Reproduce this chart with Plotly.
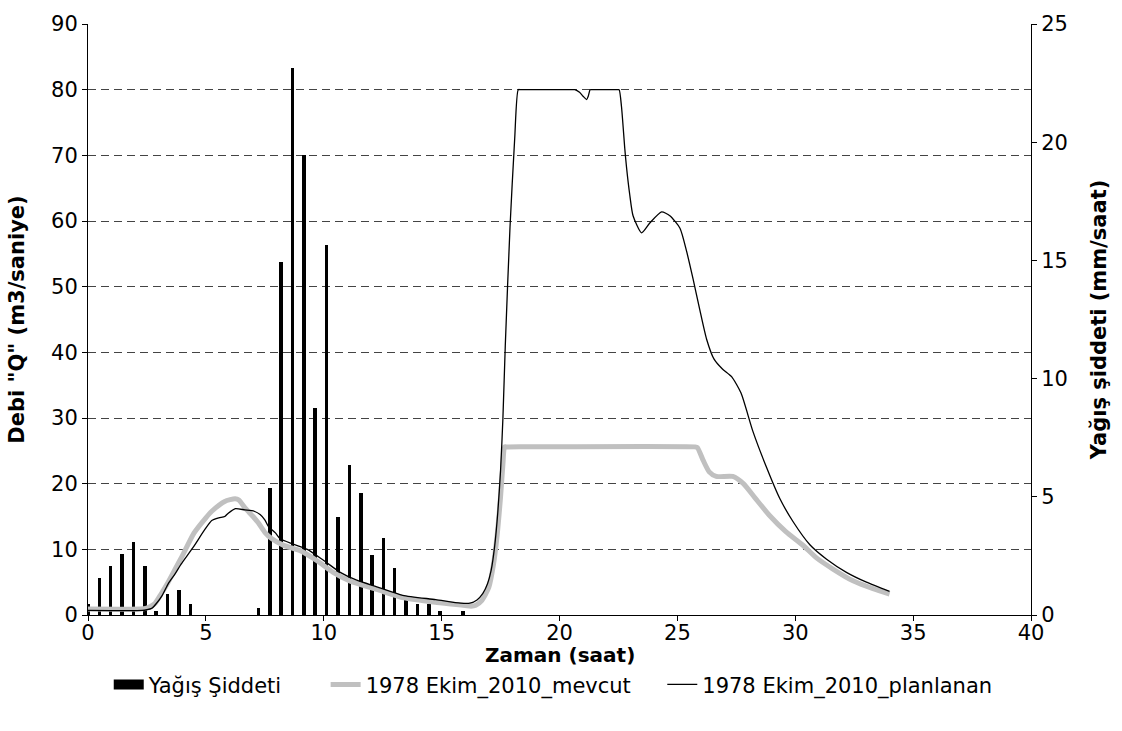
import plotly.graph_objects as go

# Rainfall intensity bars (mm/saat) - right axis
rain_t = [0.0, 0.48, 0.96, 1.45, 1.93, 2.41, 2.89, 3.37, 3.86, 4.34,
          7.23, 7.71, 8.19, 8.68, 9.16, 9.64, 10.12, 10.60, 11.09, 11.57,
          12.05, 12.53, 13.01, 13.50, 13.98, 14.46, 14.94, 15.91]
rain_v = [0.45, 1.57, 2.08, 2.58, 3.08, 2.08, 0.18, 0.87, 1.05, 0.45,
          0.29, 5.39, 14.94, 23.14, 19.46, 8.77, 15.66, 4.15, 6.36, 5.15,
          2.55, 3.25, 1.97, 0.62, 0.47, 0.46, 0.18, 0.18]

# 1978 Ekim_2010_mevcut (gray, thick)
mev_t = [0, 2.2, 2.45, 2.65, 2.85, 3.1, 3.4, 3.7, 4.0, 4.5, 5.0, 5.25, 5.8, 6.24, 6.4,
         6.66, 7.0, 7.23, 7.5, 7.8, 8.3, 9.0, 9.7, 10.4, 11.1, 12.25, 13.4,
         14.8, 16.0, 16.25, 16.45, 16.7, 17.0, 17.2, 17.35, 17.5, 17.6, 17.67, 17.75,
         25.75, 25.85, 26.1, 26.35, 26.65, 27.35, 27.8, 28.3, 28.9, 29.6, 30.3, 30.9,
         31.6, 32.45, 33.3, 34.0]
mev_q = [0.9, 0.9, 1.0, 1.3, 1.8, 3.2, 5.0, 7.0, 9.0, 12.5, 14.8, 15.8, 17.3, 17.7, 17.5,
         16.3, 15.0, 14.0, 12.6, 11.6, 10.6, 9.8, 8.3, 6.5, 5.2, 3.9, 2.6,
         1.9, 1.45, 1.35, 1.5, 2.2, 4.2, 7.7, 12.0, 18.0, 23.0, 25.6, 25.6,
         25.6, 25.5, 23.5, 21.8, 21.1, 21.1, 20.0, 17.8, 15.2, 12.7, 10.7, 8.7,
         7.0, 5.2, 4.0, 3.2]

# 1978 Ekim_2010_planlanan (black, thin)
pla_t = [0, 2.3, 2.5, 2.7, 2.9, 3.15, 3.4, 3.7, 3.95, 4.45, 4.95, 5.25, 5.55, 5.8, 5.95,
         6.25, 6.65, 7.05, 7.3, 7.5, 7.65, 7.95, 8.15, 8.7, 9.3, 10.0, 10.7, 11.4,
         12.25, 13.35, 14.75, 15.8, 16.2, 16.5, 16.75, 16.95, 17.1, 17.25, 17.38,
         17.5, 17.6, 17.7, 17.9, 18.1, 18.25, 18.35, 20.55, 20.65, 20.85, 21.0, 21.15,
         21.22, 21.3, 21.4, 22.45, 22.53, 22.63, 22.77, 22.84, 22.98, 23.12, 23.48,
         23.83, 24.33, 24.68, 25.11, 25.39, 25.67, 25.95, 26.24, 26.55, 26.9, 27.3,
         27.7, 28.2, 28.78, 29.35, 29.91, 30.62, 31.33, 32.17, 33.02, 34.0]
pla_q = [0.7, 0.7, 0.8, 1.0, 1.75, 3.0, 4.75, 6.3, 7.75, 10.25, 13.0, 14.4, 14.8, 15.0, 15.5,
         16.2, 16.0, 15.8, 15.3, 14.5, 13.5, 12.5, 11.6, 10.8, 10.0, 8.3, 6.5, 5.3,
         4.3, 3.0, 2.35, 1.8, 1.8, 2.3, 3.3, 4.8, 6.8, 10.5, 15.5,
         22.0, 30.0, 41.0, 59.0, 72.6, 80.0, 80.0, 80.0, 80.0, 79.6, 79.0, 78.5,
         79.0, 80.0, 80.0, 80.0, 80.0, 77.4, 71.0, 68.3, 64.0, 60.8, 58.2,
         59.7, 61.4, 60.8, 58.9, 55.4, 51.1, 46.5, 42.0, 39.0, 37.5, 36.3,
         33.8, 28.0, 22.5, 17.7, 14.2, 10.7, 8.5, 6.5, 5.0, 3.6]

FONT = "DejaVu Sans, Arial, sans-serif"

fig = go.Figure()
fig.add_trace(go.Bar(x=rain_t, y=rain_v, width=0.15, marker=dict(color="black", line=dict(width=0)),
                     name="Yağış Şiddeti", yaxis="y", showlegend=False))
# legend entry for the rainfall bars (wide black block as in the original legend)
fig.add_trace(go.Scatter(x=[None], y=[None], mode="lines", line=dict(color="black", width=17),
                         name="Yağış Şiddeti", yaxis="y", legend="legend", showlegend=True))
fig.add_trace(go.Scatter(x=mev_t, y=mev_q, mode="lines",
                         line=dict(color="#c0c0c0", width=5, shape="spline", smoothing=0.6),
                         name="1978 Ekim_2010_mevcut", yaxis="y2", legend="legend2", showlegend=True))
fig.add_trace(go.Scatter(x=pla_t, y=pla_q, mode="lines",
                         line=dict(color="black", width=1.3, shape="spline", smoothing=0.6),
                         name="1978 Ekim_2010_planlanan", yaxis="y2", legend="legend3", showlegend=True))

axis_font = dict(family=FONT, size=21, color="black")
title_font = dict(family=FONT, size=21, color="black", weight="bold")

leg_common = dict(orientation="h", yanchor="middle", y=-0.118, xanchor="left",
                  font=dict(family=FONT, size=21, color="black"), bgcolor="rgba(0,0,0,0)",
                  tracegroupgap=0)

fig.update_layout(
    width=1122, height=731,
    margin=dict(l=88, r=91, t=16, b=116),
    paper_bgcolor="white", plot_bgcolor="white",
    showlegend=True,
    bargap=0,
    xaxis=dict(range=[0, 40], dtick=5, tick0=0, showline=True, linecolor="black", linewidth=1,
               ticks="outside", ticklen=5, tickcolor="black", tickfont=axis_font,
               ticklabelstandoff=-6,
               showgrid=False, zeroline=False),
    yaxis=dict(range=[0, 25], dtick=5, side="right", showline=True, linecolor="black", linewidth=1,
               ticks="outside", ticklen=5, tickcolor="black", tickfont=axis_font,
               showgrid=False, zeroline=False,
               title=dict(text="Yağış şiddeti (mm/saat)", font=title_font, standoff=24)),
    yaxis2=dict(range=[0, 90], dtick=10, side="left", overlaying="y", showline=True,
                linecolor="black", linewidth=1, ticks="outside", ticklen=5, tickcolor="black",
                tickfont=axis_font, showgrid=True, gridcolor="#444444", gridwidth=1,
                griddash="8px,5px", zeroline=False,
                title=dict(text='Debi "Q" (m3/saniye)', font=title_font, standoff=20)),
    legend=dict(leg_common, x=0.022),
    legend2=dict(leg_common, x=0.252),
    legend3=dict(leg_common, x=0.609),
    annotations=[dict(text="<b>Zaman (saat)</b>", xref="paper", yref="paper", x=0.5, y=-0.0685,
                      xanchor="center", yanchor="middle", showarrow=False,
                      font=dict(family=FONT, size=20, color="black"))],
)

fig.write_html("out.html")
